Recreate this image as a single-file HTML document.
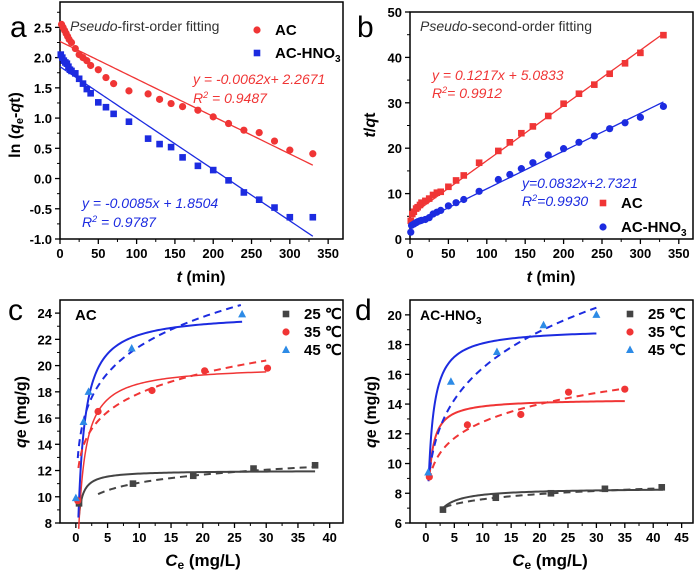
<!DOCTYPE html>
<html><head><meta charset="utf-8"><style>
body{margin:0;background:#fff;}
svg{display:block;font-family:"Liberation Sans",Arial,sans-serif;}
.tk{font-size:13px;font-weight:bold;fill:#000;}
</style></head><body>
<svg id="fig" width="700" height="575" viewBox="0 0 700 575" xmlns="http://www.w3.org/2000/svg"></svg>
<script>
// ---------- Panel a data ----------
const aTimeAC=[2,4,6,8,10,12,15,20,25,30,35,40,50,60,70,90,115,130,145,160,180,200,220,240,260,280,300,330];
const aLnAC=[2.55,2.5,2.45,2.4,2.35,2.3,2.25,2.15,2.05,2.0,1.95,1.87,1.8,1.67,1.57,1.45,1.4,1.31,1.24,1.19,1.13,1.02,0.91,0.8,0.76,0.62,0.47,0.41];
const aTimeHNO=[1,3,5,7,9,11,13,15,20,25,30,35,40,50,60,70,90,115,130,145,160,180,200,220,240,260,280,300,330];
const aLnHNO=[2.05,2.0,1.95,1.92,1.9,1.85,1.8,1.78,1.74,1.65,1.57,1.48,1.41,1.26,1.18,1.07,0.94,0.66,0.57,0.52,0.35,0.21,0.14,-0.03,-0.23,-0.35,-0.48,-0.64,-0.64];
const aFitAC=[-0.0062,2.2671];
const aFitHNO=[-0.0085,1.8504];
const aYTicks=[-1.0,-0.5,0.0,0.5,1.0,1.5,2.0,2.5];
const xTicksT=[0,50,100,150,200,250,300,350];
// ---------- Panel b data ----------
const bTimeAC=[1,3,5,8,10,13,15,20,25,30,35,40,50,60,70,90,115,130,145,160,180,200,220,240,260,280,300,330];
const bTqAC=[4.0,5.5,6.0,6.7,7.0,7.5,8.0,8.4,8.9,9.7,10.2,10.4,11.5,12.9,14.0,16.8,19.4,21.3,23.3,24.8,27.1,29.8,32.0,34.0,36.4,38.7,41.0,44.9];
const bTimeHNO=[1,2,5,8,10,13,15,20,25,30,35,40,50,60,70,90,115,130,145,160,180,200,220,240,260,280,300,330];
const bTqHNO=[1.5,3.0,3.3,3.6,3.8,4.0,4.1,4.3,4.7,5.5,5.9,6.3,7.3,8.0,8.7,10.5,13.1,14.2,15.5,16.8,18.5,19.9,21.3,22.7,24.3,25.6,26.8,29.2];
const bFitAC=[0.1217,5.0833];
const bFitHNO=[0.0832,2.7321];
const bYTicks=[0,10,20,30,40,50];
// ---------- Panel c data ----------
const cCe25=[0.5,9,18.5,28,37.7], cQe25=[9.5,11.0,11.6,12.15,12.4];
const cCe35=[0.3,3.5,12,20.3,30.2], cQe35=[9.7,16.5,18.1,19.6,19.8];
const cCe45=[0,1.2,2,8.8,26.2], cQe45=[9.9,15.7,18.0,21.3,23.9];
const cLang=[[12,5,0.5,37.7],[20,1.35,0.45,30],[24,1.35,0.4,26.2]]; // qm,K,Cstart,Cend
const cFreu=[[9.25,0.078,3.5,37.7],[13.6,0.119,0.4,30],[15.4,0.144,0.3,26]]; // Kf,1/n,Cstart,Cend
const cYTicks=[8,10,12,14,16,18,20,22,24];
const cXTicks=[0,5,10,15,20,25,30,35,40];
// ---------- Panel d data ----------
const dCe25=[3,12.3,22,31.5,41.5], dQe25=[6.9,7.7,8.0,8.3,8.4];
const dCe35=[0.6,7.3,16.7,25.1,35], dQe35=[9.1,12.6,13.3,14.8,15.0];
const dCe45=[0.4,4.4,12.5,20.7,30], dQe45=[9.4,15.5,17.5,19.3,20.0];
const dLang=[[8.35,1.73,3,41.7],[14.35,2.73,0.6,35],[19.1,1.78,0.5,30]];
const dFreu=[[6.54,0.065,3.3,41.7],[9.51,0.129,0.6,35],[10.34,0.201,0.45,30]];
const dYTicks=[6,8,10,12,14,16,18,20];
const dXTicks=[0,5,10,15,20,25,30,35,40,45];

const NS='http://www.w3.org/2000/svg';
const svg=document.getElementById('fig');
function el(tag,attrs,parent){const e=document.createElementNS(NS,tag);for(const k in attrs)e.setAttribute(k,attrs[k]);(parent||svg).appendChild(e);return e;}
function txt(x,y,s,attrs,parent){const t=el('text',Object.assign({x:x,y:y},attrs||{}),parent);t.innerHTML=s;return t;}
const RED='#f03535', BLUE='#1c2be0', LBLUE='#2d8be6', GRAY='#444';

function makePanel(name,box,xr,yr,xt,yt,fmtY,minorX,minorY){
  const g=el('g',{});
  
  
  const X=v=>box.l+(v-xr[0])/(xr[1]-xr[0])*(box.r-box.l);
  const Y=v=>box.b-(v-yr[0])/(yr[1]-yr[0])*(box.b-box.t);
  const fr=el('rect',{x:box.l,y:box.t,width:box.r-box.l,height:box.b-box.t,fill:'none',stroke:'#000','stroke-width':1.5},g);
  
  
  const xa=el('g',{},g);
  
  
  xt.forEach(v=>{el('line',{x1:X(v),x2:X(v),y1:box.b,y2:box.b+5,stroke:'#000','stroke-width':1.3},xa);
    txt(X(v),box.b+19,String(v),{class:'tk','text-anchor':'middle'},xa);
    const m=v+minorX; if(X(m)<box.r) el('line',{x1:X(m),x2:X(m),y1:box.b,y2:box.b+3,stroke:'#000','stroke-width':1},xa);});
  const ya=el('g',{},g);
  
  
  yt.forEach(v=>{el('line',{x1:box.l-5,x2:box.l,y1:Y(v),y2:Y(v),stroke:'#000','stroke-width':1.3},ya);
    txt(box.l-8,Y(v)+5,fmtY(v),{class:'tk','text-anchor':'end'},ya);
    const m=v+minorY; if(Y(m)>box.t) el('line',{x1:box.l-3,x2:box.l,y1:Y(m),y2:Y(m),stroke:'#000','stroke-width':1},ya);});
  return {g,X,Y};
}
function markers(p,xs,ys,shape,color,name){
  const g=el('g',{},p.g);
  
  
  xs.forEach((v,i)=>{const x=p.X(v),y=p.Y(ys[i]);let m;
    if(shape==='c') m=el('circle',{cx:x,cy:y,r:3.6,fill:color},g);
    else if(shape==='s') m=el('rect',{x:x-3.3,y:y-3.3,width:6.6,height:6.6,fill:color},g);
    else m=el('polygon',{points:`${x},${y-4.5} ${x-4},${y+3} ${x+4},${y+3}`,fill:color},g);
    
    });
}
function curve(p,f,x0,x1,color,dash,name,w){
  let d='';const n=120;
  for(let i=0;i<=n;i++){const c=x0+(x1-x0)*Math.pow(i/n,2);d+=(i?'L':'M')+p.X(c).toFixed(2)+','+p.Y(f(c)).toFixed(2);}
  const pa=el('path',{d:d,fill:'none',stroke:color,'stroke-width':w||2,'stroke-dasharray':dash?'7,5':'none'},p.g);
  
  
}
function legend(x,y,shape,color,label,name,size){
  const g=el('g',{});
  
  
  if(shape==='c') el('circle',{cx:x,cy:y,r:3.6,fill:color},g);
  else if(shape==='s') el('rect',{x:x-3.3,y:y-3.3,width:6.6,height:6.6,fill:color},g);
  else el('polygon',{points:`${x},${y-4.5} ${x-4},${y+3} ${x+4},${y+3}`,fill:color},g);
  txt(x+18,y+5,label,{'font-size':size||15,'font-weight':'bold',fill:'#000'},g);
}
function label(x,y,s,attrs,name){const t=txt(x,y,s,attrs);return t;}

// ===== Panel a =====
const pa=makePanel('panel-a',{l:60,r:343,t:2,b:239},[0,369.4],[-1,2.92],xTicksT,aYTicks,v=>v.toFixed(1),25,0.25);
curve(pa,x=>aFitAC[0]*x+aFitAC[1],0,330,RED,false,'fit-line-ac',1.3);
curve(pa,x=>aFitHNO[0]*x+aFitHNO[1],0,330,BLUE,false,'fit-line-ac-hno3',1.3);
markers(pa,aTimeAC,aLnAC,'c',RED,'series-ac');
markers(pa,aTimeHNO,aLnHNO,'s',BLUE,'series-ac-hno3');
label(10,37,'a',{'font-size':30,fill:'#000'},'panel-label-a');
label(70,31,'<tspan font-style="italic">Pseudo</tspan>-first-order fitting',{'font-size':14,fill:'#333'},'title-a');
legend(257,30,'c',RED,'AC','legend-ac-a');
legend(257,53,'s',BLUE,'AC-HNO<tspan font-size="10" dy="4">3</tspan>','legend-ac-hno3-a');
label(193,84,'y = -0.0062x+ 2.2671',{'font-size':14,'font-style':'italic',fill:RED},'equation-ac-a');
label(193,103,'R<tspan font-size="9" dy="-5">2</tspan><tspan dy="5"> = 0.9487</tspan>',{'font-size':14,'font-style':'italic',fill:RED},'r2-ac-a');
label(82,208,'y = -0.0085x + 1.8504',{'font-size':14,'font-style':'italic',fill:BLUE},'equation-ac-hno3-a');
label(82,227,'R<tspan font-size="9" dy="-5">2</tspan><tspan dy="5"> = 0.9787</tspan>',{'font-size':14,'font-style':'italic',fill:BLUE},'r2-ac-hno3-a');
label(20,125,'ln (<tspan font-style="italic">q</tspan><tspan font-size="11" dy="3">e</tspan><tspan dy="-3">-</tspan><tspan font-style="italic">q</tspan>t)',{'font-size':16,'font-weight':'bold',fill:'#000','text-anchor':'middle',transform:'rotate(-90 20 125)'},'y-axis-title-a');
label(201,282,'<tspan font-style="italic">t</tspan> (min)',{'font-size':16,'font-weight':'bold',fill:'#000','text-anchor':'middle'},'x-axis-title-a');

// ===== Panel b =====
const pb=makePanel('panel-b',{l:410,r:693,t:12,b:239},[0,368.5],[0,50],xTicksT,bYTicks,v=>String(v),25,5);
curve(pb,x=>bFitAC[0]*x+bFitAC[1],0,330,RED,false,'fit-line-ac-b',1.3);
curve(pb,x=>bFitHNO[0]*x+bFitHNO[1],0,330,BLUE,false,'fit-line-ac-hno3-b',1.3);
markers(pb,bTimeAC,bTqAC,'s',RED,'series-ac-b');
markers(pb,bTimeHNO,bTqHNO,'c',BLUE,'series-ac-hno3-b');
label(357,37,'b',{'font-size':30,fill:'#000'},'panel-label-b');
label(420,31,'<tspan font-style="italic">Pseudo</tspan>-second-order fitting',{'font-size':14,'fill':'#333'},'title-b');
label(432,80,'y = 0.1217x + 5.0833',{'font-size':14,'font-style':'italic',fill:RED},'equation-ac-b');
label(432,98,'R<tspan font-size="9" dy="-5">2</tspan><tspan dy="5">= 0.9912</tspan>',{'font-size':14,'font-style':'italic',fill:RED},'r2-ac-b');
label(522,188,'y=0.0832x+2.7321',{'font-size':14,'font-style':'italic',fill:BLUE},'equation-ac-hno3-b');
label(522,206,'R<tspan font-size="9" dy="-5">2</tspan><tspan dy="5">=0.9930</tspan>',{'font-size':14,'font-style':'italic',fill:BLUE},'r2-ac-hno3-b');
legend(603,203,'s',RED,'AC','legend-ac-b');
legend(603,227,'c',BLUE,'AC-HNO<tspan font-size="10" dy="4">3</tspan>','legend-ac-hno3-b');
label(375,125,'<tspan font-style="italic">t</tspan>/<tspan font-style="italic">q</tspan>t',{'font-size':16,'font-weight':'bold',fill:'#000','text-anchor':'middle',transform:'rotate(-90 375 125)'},'y-axis-title-b');
label(551,282,'<tspan font-style="italic">t</tspan> (min)',{'font-size':16,'font-weight':'bold',fill:'#000','text-anchor':'middle'},'x-axis-title-b');

// ===== Panel c =====
const pc=makePanel('panel-c',{l:60,r:343,t:300,b:523},[-2.5,42.1],[8,25],cXTicks,cYTicks,v=>String(v),2.5,1);
const cColors=[GRAY,RED,BLUE];
cLang.forEach((p,i)=>curve(pc,c=>p[0]*p[1]*c/(1+p[1]*c),p[2],p[3],cColors[i],false,'langmuir-fit-c-'+i,i==1?1.5:2));
cFreu.forEach((p,i)=>curve(pc,c=>p[0]*Math.pow(c,p[1]),p[2],p[3],cColors[i],true,'freundlich-fit-c-'+i,2));
markers(pc,cCe25,cQe25,'s',GRAY,'series-25c-c');
markers(pc,cCe35,cQe35,'c',RED,'series-35c-c');
markers(pc,cCe45,cQe45,'t',LBLUE,'series-45c-c');
label(8,320,'c',{'font-size':30,fill:'#000'},'panel-label-c');
label(75,320,'AC',{'font-size':15,'font-weight':'bold',fill:'#000'},'title-c');
legend(286,314,'s',GRAY,'25 ℃','legend-25c-c');
legend(286,332,'c',RED,'35 ℃','legend-35c-c');
legend(286,350,'t',LBLUE,'45 ℃','legend-45c-c');
label(26,412,'<tspan font-style="italic">q</tspan>e (mg/g)',{'font-size':16,'font-weight':'bold',fill:'#000','text-anchor':'middle',transform:'rotate(-90 26 412)'},'y-axis-title-c');
label(203,566,'<tspan font-style="italic">C</tspan><tspan font-size="12" dy="3">e</tspan><tspan dy="-3"> (mg/L)</tspan>',{'font-size':17,'font-weight':'bold',fill:'#000','text-anchor':'middle'},'x-axis-title-c');

// ===== Panel d =====
const pd=makePanel('panel-d',{l:410,r:693,t:300,b:523},[-2.8,47],[6,21],dXTicks,dYTicks,v=>String(v),2.5,1);
dLang.forEach((p,i)=>curve(pd,c=>p[0]*p[1]*c/(1+p[1]*c),p[2],p[3],cColors[i],false,'langmuir-fit-d-'+i,2));
dFreu.forEach((p,i)=>curve(pd,c=>p[0]*Math.pow(c,p[1]),p[2],p[3],cColors[i],true,'freundlich-fit-d-'+i,2));
markers(pd,dCe25,dQe25,'s',GRAY,'series-25c-d');
markers(pd,dCe35,dQe35,'c',RED,'series-35c-d');
markers(pd,dCe45,dQe45,'t',LBLUE,'series-45c-d');
label(355,320,'d',{'font-size':30,fill:'#000'},'panel-label-d');
label(420,320,'AC-HNO<tspan font-size="10" dy="4">3</tspan>',{'font-size':14,'font-weight':'bold',fill:'#000'},'title-d');
legend(630,314,'s',GRAY,'25 ℃','legend-25c-d');
legend(630,332,'c',RED,'35 ℃','legend-35c-d');
legend(630,350,'t',LBLUE,'45 ℃','legend-45c-d');
label(376,412,'<tspan font-style="italic">q</tspan>e (mg/g)',{'font-size':16,'font-weight':'bold',fill:'#000','text-anchor':'middle',transform:'rotate(-90 376 412)'},'y-axis-title-d');
label(550,566,'<tspan font-style="italic">C</tspan><tspan font-size="12" dy="3">e</tspan><tspan dy="-3"> (mg/L)</tspan>',{'font-size':17,'font-weight':'bold',fill:'#000','text-anchor':'middle'},'x-axis-title-d');
</script>
</body></html>
